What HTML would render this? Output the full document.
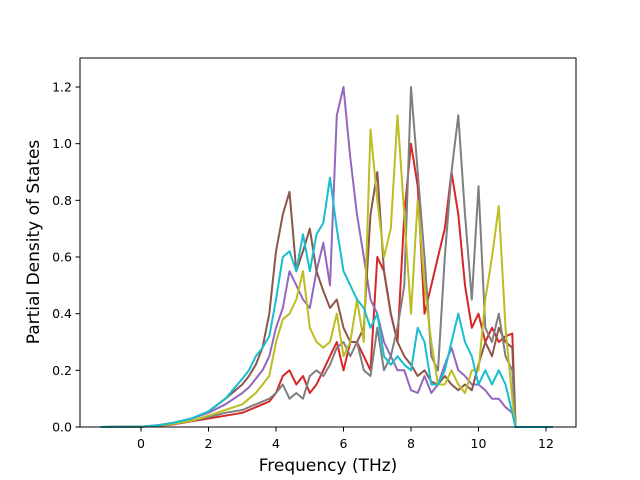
<!DOCTYPE html>
<html><head><meta charset="utf-8"><style>
body{margin:0;background:#fff}
svg{display:block;font-family:"DejaVu Sans","Liberation Sans",sans-serif}
</style></head><body>
<svg id="chart" width="640" height="480" viewBox="0 0 640 480">
<rect x="0" y="0" width="640" height="480" fill="#fff"/>
<g id="series"></g>
<rect x="80" y="58" width="496" height="369" fill="none" stroke="#000" stroke-width="1"/>
<g id="xticks"></g>
<g id="yticks"></g>
<text x="328" y="471" font-size="17" text-anchor="middle">Frequency (THz)</text>
<text transform="translate(39,242) rotate(-90)" font-size="17" text-anchor="middle">Partial Density of States</text>
</svg>
<script>
const freqs=[-1.2,0,0.5,1,1.5,2,2.5,3.0,3.2,3.4,3.6,3.8,4.0,4.2,4.4,4.6,4.8,5.0,5.2,5.4,5.6,5.8,6.0,6.2,6.4,6.6,6.8,7.0,7.2,7.4,7.6,7.8,8.0,8.2,8.4,8.6,8.8,9.0,9.2,9.4,9.6,9.8,10.0,10.2,10.4,10.6,10.8,11.0,11.1,12.2];
const redVals=[0,0.001,0.004,0.01,0.02,0.03,0.04,0.05,0.06,0.07,0.08,0.09,0.12,0.18,0.2,0.15,0.18,0.12,0.15,0.2,0.25,0.3,0.2,0.3,0.3,0.25,0.2,0.6,0.55,0.4,0.3,0.75,1.0,0.85,0.4,0.5,0.6,0.7,0.9,0.75,0.5,0.35,0.4,0.3,0.35,0.3,0.32,0.33,0,0];
const purpleVals=[0,0.001,0.006,0.015,0.03,0.05,0.08,0.12,0.14,0.17,0.2,0.25,0.35,0.42,0.55,0.5,0.45,0.42,0.55,0.65,0.5,1.1,1.2,0.95,0.75,0.6,0.45,0.4,0.3,0.25,0.2,0.2,0.13,0.12,0.18,0.12,0.15,0.22,0.28,0.2,0.18,0.15,0.15,0.13,0.1,0.1,0.07,0.05,0,0];
const brownVals=[0,0.001,0.006,0.016,0.03,0.055,0.1,0.15,0.18,0.22,0.28,0.4,0.62,0.75,0.83,0.55,0.62,0.7,0.55,0.48,0.42,0.45,0.35,0.3,0.3,0.35,0.75,0.9,0.55,0.4,0.3,0.25,0.22,0.18,0.2,0.16,0.15,0.18,0.15,0.13,0.15,0.13,0.22,0.3,0.25,0.35,0.3,0.28,0,0];
const grayVals=[0,0.001,0.005,0.012,0.022,0.035,0.05,0.06,0.07,0.08,0.09,0.1,0.12,0.15,0.1,0.12,0.1,0.18,0.2,0.18,0.22,0.28,0.3,0.25,0.3,0.2,0.18,0.35,0.2,0.25,0.35,0.5,1.2,0.9,0.6,0.25,0.2,0.6,0.9,1.1,0.75,0.45,0.85,0.35,0.3,0.4,0.25,0.2,0,0];
const oliveVals=[0,0.001,0.005,0.012,0.022,0.04,0.06,0.08,0.1,0.12,0.15,0.18,0.3,0.38,0.4,0.45,0.55,0.35,0.3,0.28,0.3,0.4,0.25,0.3,0.45,0.3,1.05,0.8,0.6,0.7,1.1,0.75,0.4,0.8,0.5,0.3,0.15,0.15,0.2,0.15,0.12,0.2,0.2,0.45,0.6,0.78,0.35,0.1,0,0];
const cyanVals=[0,0.001,0.006,0.016,0.03,0.055,0.1,0.17,0.2,0.25,0.28,0.32,0.45,0.6,0.62,0.55,0.68,0.55,0.68,0.72,0.88,0.7,0.55,0.5,0.45,0.42,0.35,0.4,0.25,0.22,0.25,0.22,0.2,0.35,0.3,0.15,0.15,0.2,0.3,0.4,0.3,0.25,0.15,0.2,0.15,0.2,0.15,0.05,0,0];
const seriesNames=["red","purple","brown","gray","olive","cyan"];
const seriesData=[redVals,purpleVals,brownVals,grayVals,oliveVals,cyanVals];
const seriesColors=["#d62728","#9467bd","#8c564b","#7f7f7f","#bcbd22","#17becf"];
const xTickVals=[0,2,4,6,8,10,12];
const yTickVals=[0.0,0.2,0.4,0.6,0.8,1.0,1.2];

const NS="http://www.w3.org/2000/svg";
function xs(f){return 141+(f-0)*(546-141)/12;}
function ys(v){return 427-v*(427-87)/1.2;}
const sg=document.getElementById('series');
seriesData.forEach((vals,i)=>{
  const p=document.createElementNS(NS,'polyline');
  p.setAttribute('points',vals.map((v,j)=>xs(freqs[j]).toFixed(1)+','+ys(v).toFixed(1)).join(' '));
  p.setAttribute('fill','none');
  p.setAttribute('stroke',seriesColors[i]);
  p.setAttribute('stroke-width','2');
  p.setAttribute('stroke-linejoin','round');
  
  
  sg.appendChild(p);
});
const xg=document.getElementById('xticks');
xTickVals.forEach(t=>{
  const l=document.createElementNS(NS,'line');
  l.setAttribute('x1',xs(t));l.setAttribute('x2',xs(t));l.setAttribute('y1',427);l.setAttribute('y2',431.5);l.setAttribute('stroke','#000');
  
  
  xg.appendChild(l);
  const tx=document.createElementNS(NS,'text');
  tx.setAttribute('x',xs(t));tx.setAttribute('y',448);tx.setAttribute('font-size','12.5');tx.setAttribute('text-anchor','middle');
  tx.textContent=String(t);
  
  
  xg.appendChild(tx);
});
const yg=document.getElementById('yticks');
yTickVals.forEach(t=>{
  const l=document.createElementNS(NS,'line');
  l.setAttribute('x1',75.5);l.setAttribute('x2',80);l.setAttribute('y1',ys(t));l.setAttribute('y2',ys(t));l.setAttribute('stroke','#000');
  
  
  yg.appendChild(l);
  const tx=document.createElementNS(NS,'text');
  tx.setAttribute('x',72);tx.setAttribute('y',ys(t)+4.5);tx.setAttribute('font-size','12.5');tx.setAttribute('text-anchor','end');
  tx.textContent=t.toFixed(1);
  
  
  yg.appendChild(tx);
});
</script>
</body></html>
